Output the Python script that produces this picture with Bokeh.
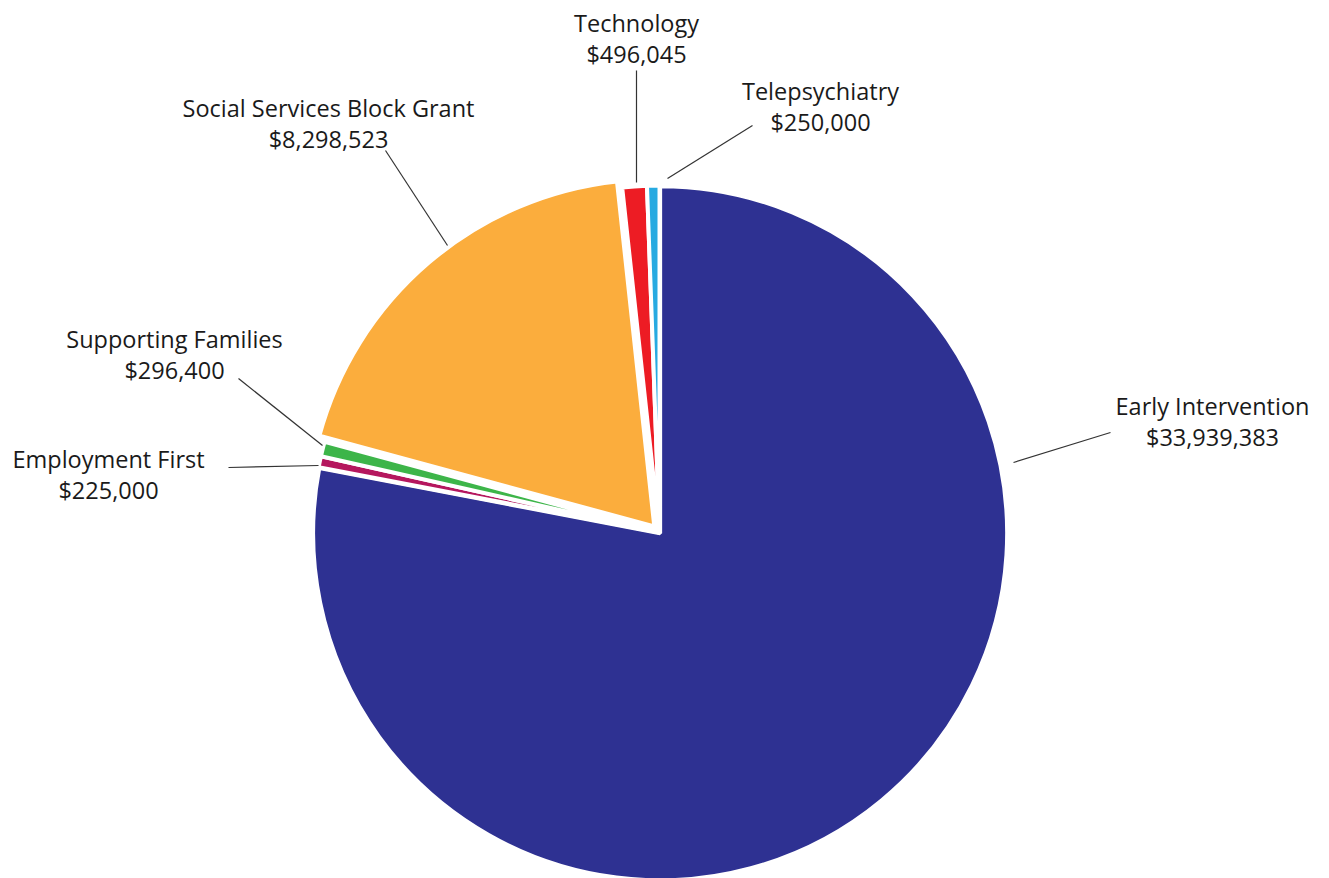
import math
from bokeh.plotting import figure
from bokeh.models import Range1d
from bokeh.core.properties import value
from bokeh.embed import file_html
from bokeh.resources import INLINE

# ---- data ----
categories = ["Early Intervention", "Employment First", "Supporting Families",
              "Social Services Block Grant", "Technology", "Telepsychiatry"]
amounts = [33939383, 225000, 296400, 8298523, 496045, 250000]
amount_labels = ["$33,939,383", "$225,000", "$296,400", "$8,298,523", "$496,045", "$250,000"]
colors = ["#2E3192", "#B5175E", "#3DB549", "#FBAD3D", "#ED1C24", "#27AAE1"]

# ---- layout / style (screen pixels, y measured downward) ----
W, H = 1329, 878
CX, CY, R = 659, 532, 347
explode = [1, 0, 0, 8, 0, 0]
label_pos = [(1212, 405), (108, 458), (174, 338), (328, 107), (636, 22), (820, 90)]
leaders = [((1110, 432), (1013, 462)),
           ((228, 467), (318, 465)),
           ((238, 378), (322, 445)),
           ((385, 150), (447, 245)),
           ((636, 70), (636, 182)),
           ((752, 125), (667, 178))]
FONT = "Open Sans"
FS = "23.5px"

p = figure(width=W, height=H, output_backend="svg", toolbar_location=None,
           x_range=Range1d(0, W), y_range=Range1d(-H, 0), min_border=0)
p.axis.visible = False
p.grid.visible = False
p.outline_line_color = None
p.background_fill_color = "white"
p.border_fill_color = "white"

total = float(sum(amounts))
cum = 0.0
xs, ys, starts, ends = [], [], [], []
for i, a in enumerate(amounts):
    s = math.pi / 2 - 2 * math.pi * cum / total
    cum += a
    e = math.pi / 2 - 2 * math.pi * cum / total
    mid = (s + e) / 2
    xs.append(CX + explode[i] * math.cos(mid))
    ys.append(-CY + explode[i] * math.sin(mid))
    starts.append(s)
    ends.append(e)

p.wedge(x=xs, y=ys, radius=R, start_angle=starts, end_angle=ends,
        direction="clock", fill_color=colors, line_color="white", line_width=4)

# leader lines
p.segment(x0=[l[0][0] for l in leaders], y0=[-l[0][1] for l in leaders],
          x1=[l[1][0] for l in leaders], y1=[-l[1][1] for l in leaders],
          line_color="#333333", line_width=1.2)

# labels
p.text(x=[lp[0] for lp in label_pos], y=[-lp[1] for lp in label_pos], text=categories,
       text_align="center", text_baseline="middle", text_font=value(FONT),
       text_font_size=FS, text_color="#1a1a1a")
p.text(x=[lp[0] for lp in label_pos], y=[-(lp[1] + 31) for lp in label_pos], text=amount_labels,
       text_align="center", text_baseline="middle", text_font=value(FONT),
       text_font_size=FS, text_color="#1a1a1a")

open("out.html", "w").write(file_html(p, INLINE))
